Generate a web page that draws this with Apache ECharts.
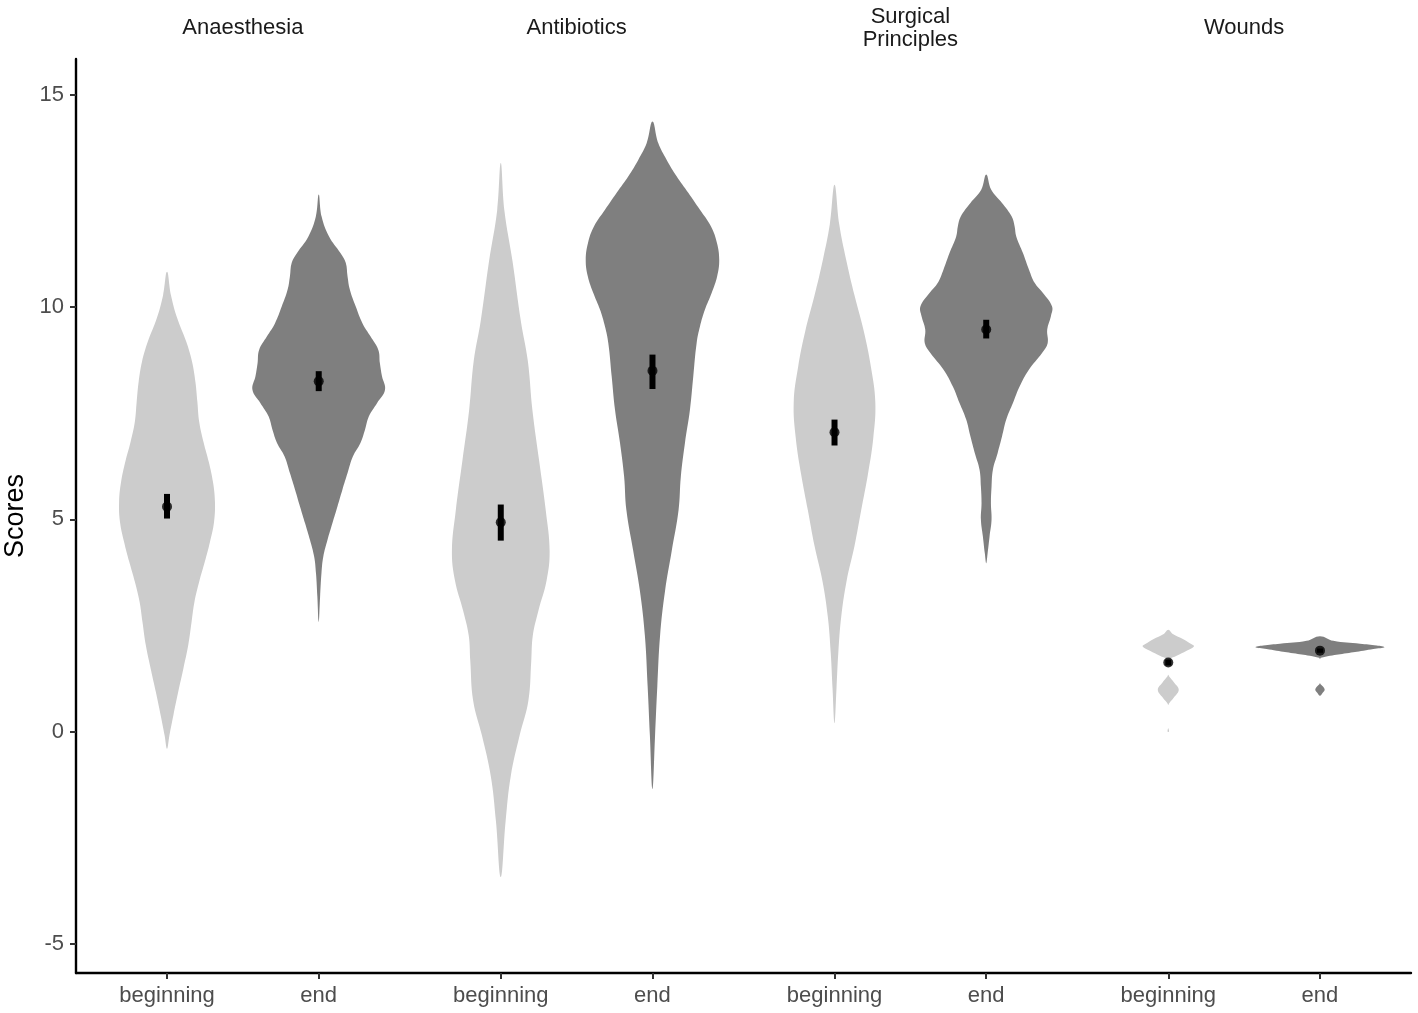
<!DOCTYPE html>
<html lang="en">
<head>
<meta charset="UTF-8">
<title>Scores by topic, beginning vs end</title>
<style>
  html, body { margin: 0; padding: 0; background: #fff; }
  #chart { width: 1418px; height: 1013px; }
</style>
</head>
<body>
<div id="chart"></div>
<script src="https://cdn.jsdelivr.net/npm/echarts@6/dist/echarts.min.js"></script>
<script>
const facets = ['Anaesthesia', 'Antibiotics', 'Surgical\nPrinciples', 'Wounds'];
const phases = ['beginning', 'end'];
const yTicks = [-5, 0, 5, 10, 15];

// violin outlines, top to bottom: [score, half width in category units]
const anaesthesiaBeginning = [
  [10.83, 0], [10.28, 0.026], [9.73, 0.068], [9.18, 0.127], [8.71, 0.165], [8.24, 0.187],
  [7.77, 0.200], [7.30, 0.212], [6.83, 0.240], [6.36, 0.275], [5.88, 0.303], [5.41, 0.316],
  [4.94, 0.310], [4.47, 0.283], [4.00, 0.249], [3.53, 0.212], [3.06, 0.181], [2.59, 0.162],
  [2.04, 0.140], [1.49, 0.108], [0.94, 0.074], [0.39, 0.042], [-0.08, 0.016], [-0.40, 0]
];
const anaesthesiaEnd = [
  [12.65, 0], [12.13, 0.019], [11.66, 0.068], [11.27, 0.143], [11.04, 0.178], [10.72, 0.190],
  [10.41, 0.205], [10.01, 0.244], [9.62, 0.288], [9.31, 0.341], [8.99, 0.393], [8.68, 0.403],
  [8.37, 0.417], [8.05, 0.437], [7.74, 0.385], [7.42, 0.330], [7.11, 0.305], [6.80, 0.275],
  [6.48, 0.225], [6.09, 0.190], [5.70, 0.156], [5.30, 0.123], [4.91, 0.090], [4.52, 0.058],
  [4.12, 0.030], [3.73, 0.018], [3.18, 0.009], [2.59, 0]
];
const antibioticsBeginning = [
  [13.39, 0], [12.27, 0.024], [11.09, 0.077], [9.68, 0.132], [8.74, 0.178], [7.56, 0.209],
  [6.38, 0.253], [5.20, 0.297], [4.26, 0.322], [3.56, 0.302], [2.85, 0.248], [2.26, 0.211],
  [1.67, 0.201], [0.73, 0.182], [-0.09, 0.124], [-1.04, 0.066], [-2.10, 0.032], [-3.42, 0]
];
const antibioticsEnd = [
  [14.37, 0], [13.86, 0.038], [13.47, 0.093], [13.08, 0.159], [12.69, 0.236], [12.29, 0.313],
  [11.90, 0.385], [11.51, 0.425], [11.11, 0.440], [10.72, 0.426], [10.33, 0.390], [9.94, 0.346],
  [9.54, 0.313], [9.15, 0.291], [8.37, 0.269], [7.58, 0.247], [6.80, 0.214], [6.01, 0.187],
  [5.22, 0.172], [4.26, 0.127], [3.32, 0.083], [2.26, 0.050], [1.08, 0.032], [-0.09, 0.017],
  [-1.35, 0]
];
const surgicalBeginning = [
  [12.88, 0], [11.95, 0.031], [11.11, 0.077], [10.27, 0.132], [9.43, 0.193], [8.59, 0.240],
  [7.75, 0.269], [6.90, 0.255], [6.06, 0.220], [5.22, 0.176], [4.38, 0.132], [3.54, 0.079],
  [2.70, 0.044], [1.86, 0.025], [1.02, 0.013], [0.20, 0]
];
const surgicalEnd = [
  [13.12, 0], [12.76, 0.033], [12.45, 0.104], [12.13, 0.168], [11.90, 0.187], [11.66, 0.198],
  [11.27, 0.242], [10.88, 0.282], [10.57, 0.319], [10.33, 0.374], [10.01, 0.434], [9.78, 0.426],
  [9.47, 0.402], [9.15, 0.405], [8.92, 0.368], [8.52, 0.280], [8.13, 0.220], [7.74, 0.176],
  [7.35, 0.132], [6.95, 0.104], [6.56, 0.075], [6.17, 0.044], [5.77, 0.035], [5.38, 0.031],
  [4.99, 0.035], [4.60, 0.022], [4.20, 0.009], [3.97, 0]
];
const woundsBeginning = [
  [2.40, 0], [2.30, 0.030], [2.18, 0.099], [2.06, 0.154], [2.01, 0.169], [1.91, 0.121],
  [1.79, 0.055], [1.71, 0.008], [1.66, 0], [1.34, 0], [1.30, 0.006], [1.16, 0.038],
  [0.99, 0.069], [0.81, 0.038], [0.67, 0.006], [0.63, 0], [0.08, 0], [0.04, 0.004], [0, 0.004]
];
const woundsEnd = [
  [2.25, 0], [2.14, 0.088], [2.07, 0.264], [2.03, 0.374], [1.99, 0.425], [1.95, 0.352],
  [1.91, 0.286], [1.85, 0.176], [1.79, 0.066], [1.74, 0.006], [1.71, 0], [1.15, 0],
  [1.12, 0.004], [1.07, 0.018], [0.99, 0.031], [0.92, 0.018], [0.85, 0]
];
const violins = [
  anaesthesiaBeginning, anaesthesiaEnd, antibioticsBeginning, antibioticsEnd,
  surgicalBeginning, surgicalEnd, woundsBeginning, woundsEnd
];

// mean and its interval, same order as violins
const means = [5.30, 8.25, 4.93, 8.50, 7.05, 9.47, 1.63, 1.91];
const ciLow = [5.02, 8.02, 4.50, 8.07, 6.74, 9.26, 1.56, 1.86];
const ciHigh = [5.60, 8.49, 5.35, 8.88, 7.35, 9.70, 1.70, 1.96];

const PANEL = 2.2; // each facet holds 2 categories with 0.6 padding either side
const xPos = (i) => Math.floor(i / 2) * PANEL + 0.6 + (i % 2);
const groups = violins.map((_, i) => i);
const tickX = groups.map(xPos);
const Y_MIN = -5.68, Y_MAX = 15.84;

const fills = ['#cccccc', '#7f7f7f'];
const font = '"Liberation Sans", Arial, Helvetica, sans-serif';

// split an outline wherever its width drops to zero, so separate blobs stay separate
function splitOutline(prof) {
  const segs = [];
  let cur = [];
  prof.forEach((p) => {
    cur.push(p);
    if (p[1] === 0 && cur.length > 1) {
      segs.push(cur);
      cur = [p];
    }
  });
  if (cur.length > 1) segs.push(cur);
  return segs.filter((s) => s.some((p) => p[1] > 0));
}

const chart = echarts.init(document.getElementById('chart'));

const option = {
  animation: false,
  textStyle: { fontFamily: font },
  grid: { left: 76, right: 7, top: 59, bottom: 40, outerBoundsMode: 'none' },
  xAxis: {
    type: 'value',
    min: 0,
    max: facets.length * PANEL,
    splitLine: { show: false },
    axisLine: { onZero: false, lineStyle: { color: '#000', width: 2.4 } },
    axisTick: { customValues: tickX, length: 6, lineStyle: { color: '#333', width: 2 } },
    axisLabel: {
      customValues: tickX,
      margin: 12,
      fontSize: 22,
      color: '#4d4d4d',
      fontFamily: font,
      formatter: (v) => {
        const i = tickX.findIndex((t) => Math.abs(t - v) < 1e-6);
        return i < 0 ? '' : phases[i % 2];
      }
    }
  },
  yAxis: {
    type: 'value',
    min: Y_MIN,
    max: Y_MAX,
    name: 'Scores',
    nameLocation: 'middle',
    nameGap: 44,
    nameTextStyle: { fontSize: 27, color: '#000', fontFamily: font },
    splitLine: { show: false },
    axisLine: { show: true, onZero: false, lineStyle: { color: '#000', width: 2.4 } },
    axisTick: { show: true, customValues: yTicks, length: 6, lineStyle: { color: '#333', width: 2 } },
    axisLabel: { customValues: yTicks, margin: 12, fontSize: 22, color: '#4d4d4d', fontFamily: font }
  },
  series: [
    {
      name: 'violins',
      type: 'custom',
      data: groups.map((i) => [xPos(i), i]),
      renderItem: (params, api) => {
        const x = api.value(0);
        const idx = api.value(1);
        const children = splitOutline(violins[idx]).map((seg) => {
          const right = seg.map(([s, w]) => api.coord([x + w, s]));
          const left = seg.slice().reverse().filter((p) => p[1] > 0)
            .map(([s, w]) => api.coord([x - w, s]));
          return {
            type: 'polygon',
            shape: { points: right.concat(left), smooth: 0.4 },
            style: { fill: fills[idx % 2] }
          };
        });
        return { type: 'group', children: children };
      }
    },
    {
      name: 'interval',
      type: 'custom',
      data: groups.map((i) => [xPos(i), ciLow[i], ciHigh[i]]),
      renderItem: (params, api) => {
        const a = api.coord([api.value(0), api.value(1)]);
        const b = api.coord([api.value(0), api.value(2)]);
        return {
          type: 'line',
          shape: { x1: a[0], y1: a[1], x2: b[0], y2: b[1] },
          style: { stroke: '#000', lineWidth: 6 }
        };
      }
    },
    {
      name: 'mean',
      type: 'scatter',
      symbol: 'circle',
      symbolSize: 10,
      itemStyle: { color: '#000' },
      data: groups.map((i) => [xPos(i), means[i]])
    },
    {
      name: 'strips',
      type: 'custom',
      clip: false,
      data: facets.map((f, k) => [k * PANEL + PANEL / 2, k]),
      renderItem: (params, api) => {
        const p = api.coord([api.value(0), Y_MAX]);
        return {
          type: 'text',
          style: {
            text: facets[api.value(1)],
            x: p[0],
            y: p[1] - 31,
            align: 'center',
            verticalAlign: 'middle',
            lineHeight: 23,
            fontSize: 22,
            fontFamily: font,
            fill: '#1a1a1a'
          }
        };
      }
    }
  ]
};

chart.setOption(option);
</script>
</body>
</html>
